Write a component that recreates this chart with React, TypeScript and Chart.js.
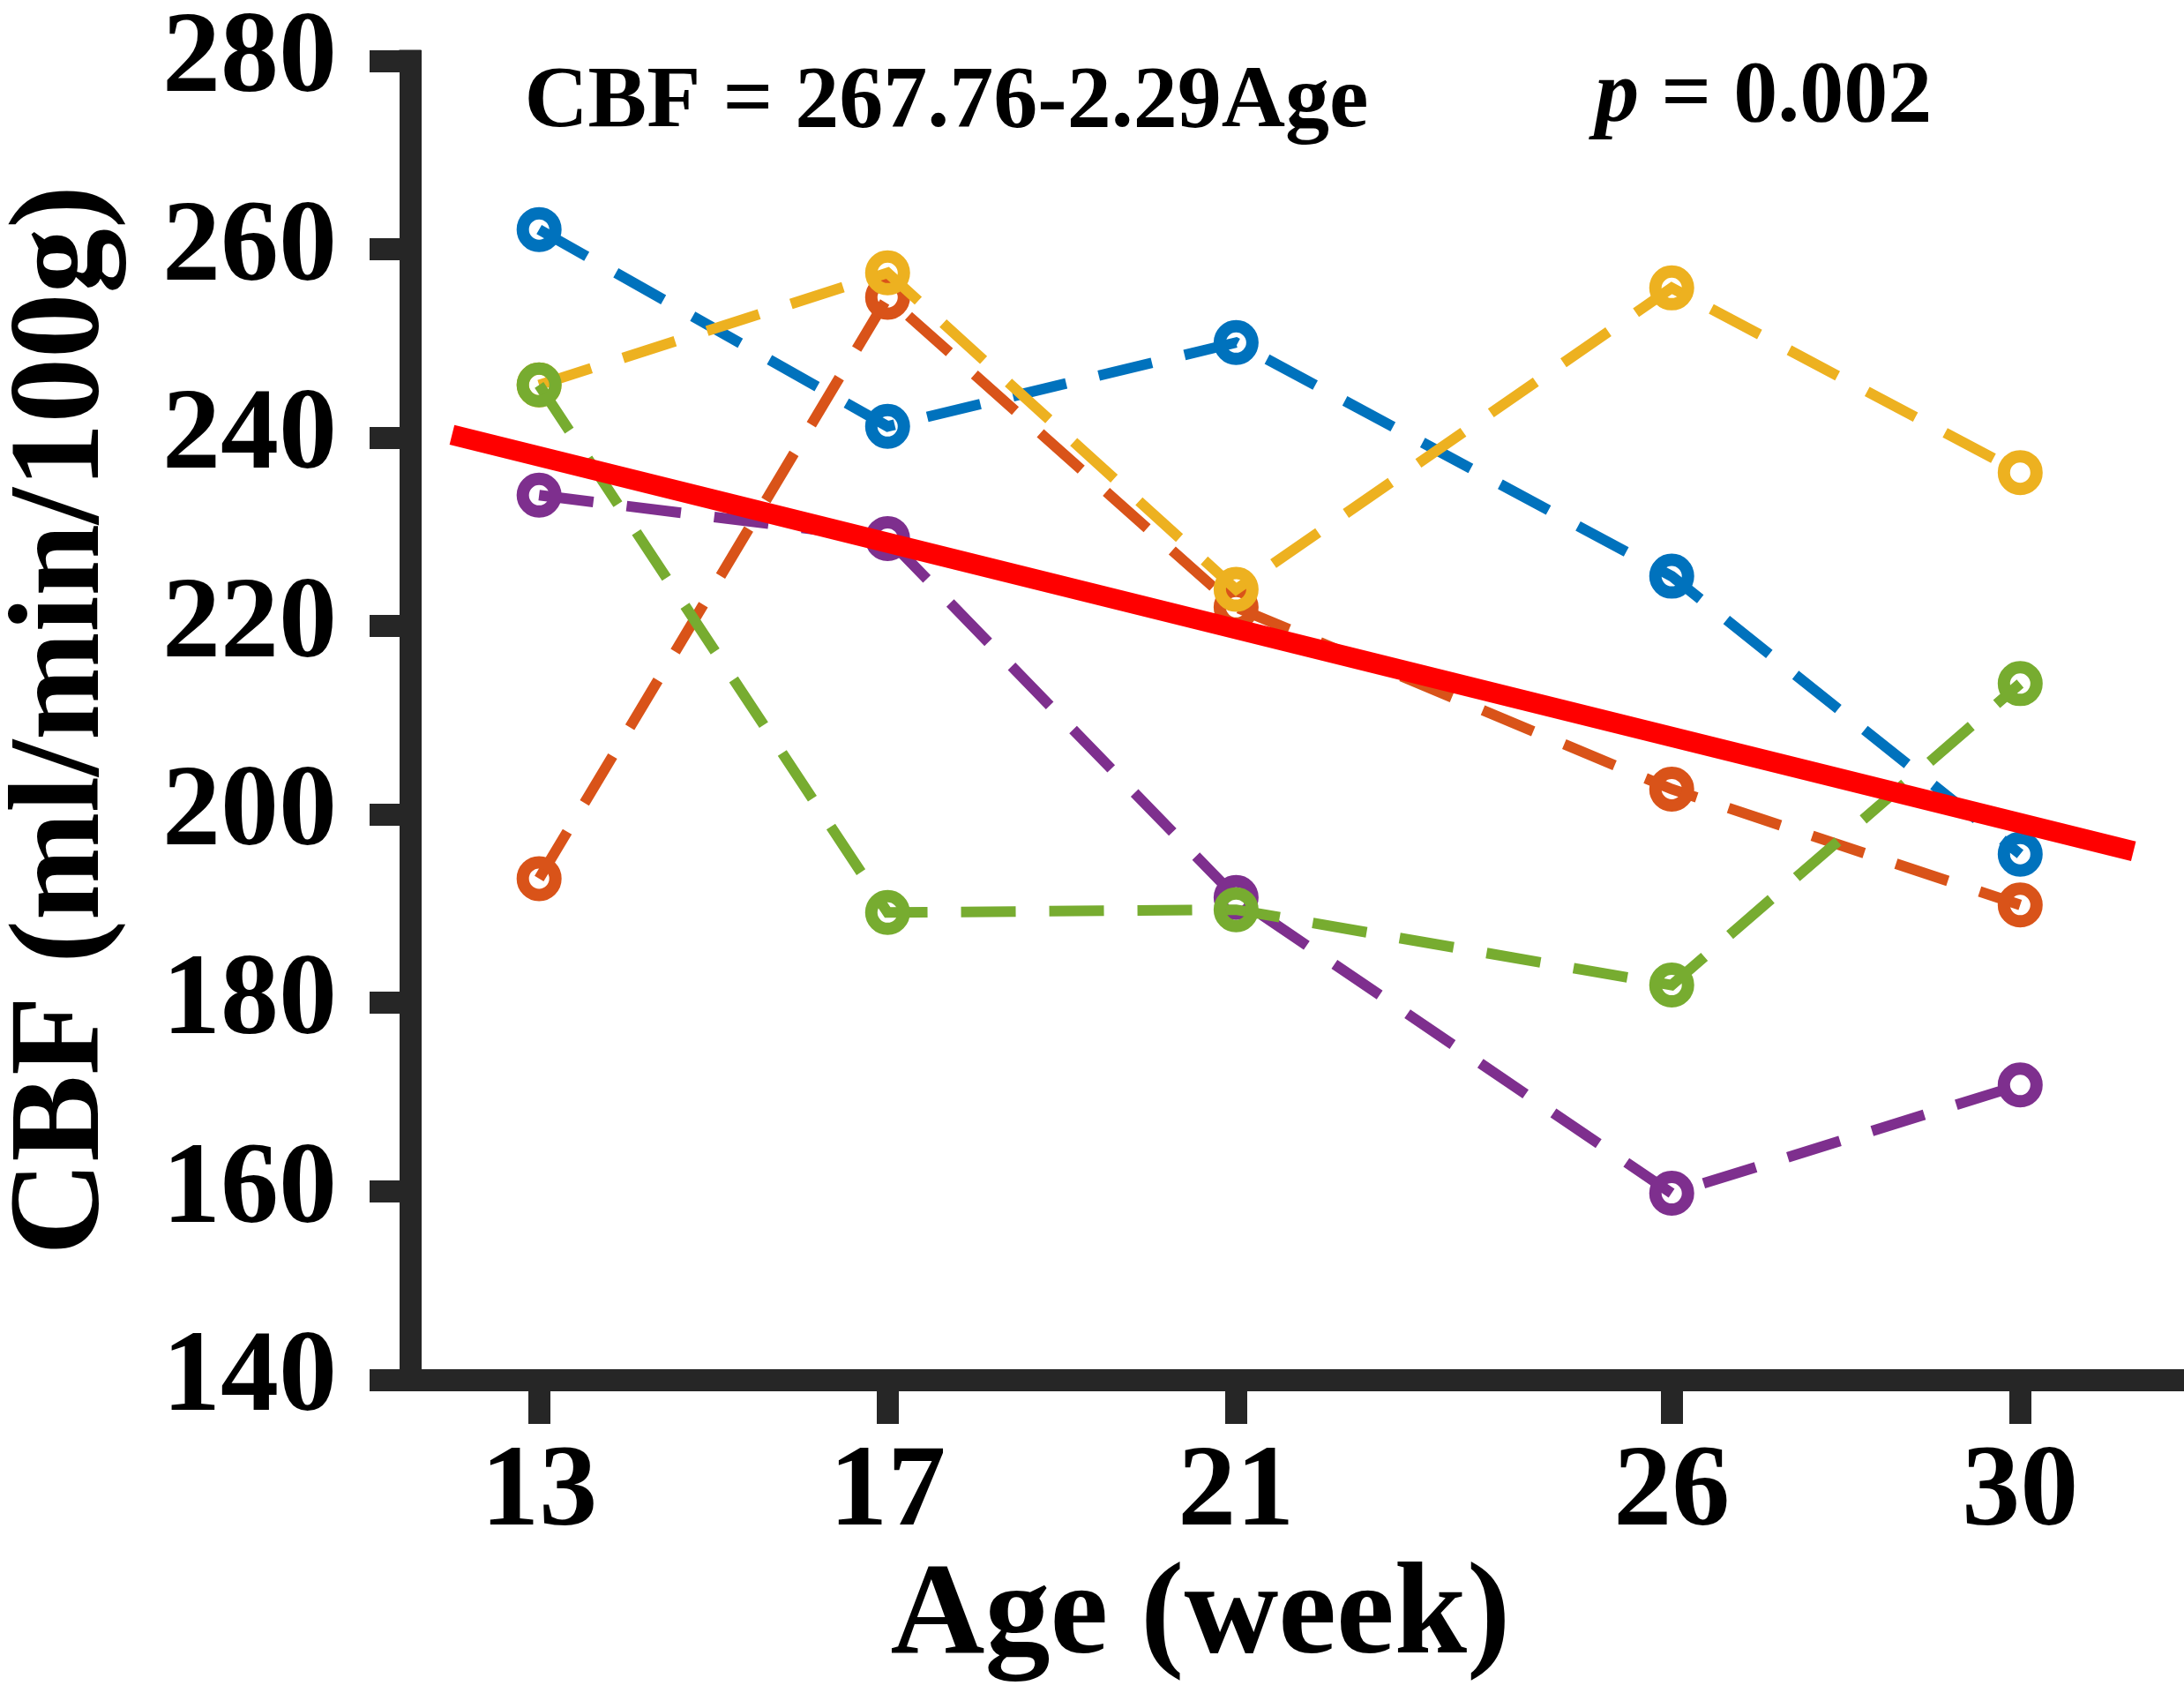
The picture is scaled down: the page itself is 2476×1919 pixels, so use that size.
import React, { useEffect, useRef } from 'react';
import { Chart, registerables } from 'chart.js';

Chart.register(...registerables);

// ---- data ----
const ages = [13, 17, 21, 26, 30];
const cbfBlue = [262.1, 241.2, 250.1, 225.3, 195.8];
const cbfOrange = [193.2, 254.9, 222.0, 202.7, 190.4];
const cbfYellow = [245.6, 257.5, 223.9, 255.9, 236.3];
const cbfPurple = [233.9, 229.3, 191.2, 159.8, 171.3];
const cbfGreen = [245.6, 189.6, 189.9, 181.9, 213.9];
const fitAges = [12, 31.3];
const fitCBF = [240.3, 196.1];
const yMin = 140;
const yMax = 280;
const yStep = 20;
const equationText = 'CBF = 267.76-2.29Age';
const pLabel = 'p';
const pValueText = ' = 0.002';
const xTitle = 'Age (week)';
const yTitle = 'CBF (ml/min/100g)';

const FONT = '"Liberation Serif", "Times New Roman", serif';
const AXIS = '#262626';

const toPts = (xs: number[], ys: number[]) => xs.map((a, i) => ({ x: a, y: ys[i] }));

const subjectStyle = (color: string) => ({
  borderColor: color,
  backgroundColor: 'transparent',
  borderWidth: 12,
  borderDash: [62, 38],
  pointRadius: 18.5,
  pointHoverRadius: 18.5,
  pointBorderWidth: 14,
  pointBorderColor: color,
  pointBackgroundColor: 'transparent',
  showLine: true,
  tension: 0,
});

const textPlugin = {
  id: 'textPlugin',
  afterDraw(chart: any) {
    const { ctx, chartArea } = chart;
    const xs = chart.scales.x;
    const ys = chart.scales.y;
    ctx.save();
    // close the top corner of the y axis line
    ctx.fillStyle = AXIS;
    ctx.fillRect(chartArea.left - 12.5, chartArea.top - 12.5, 25, 13);

    ctx.fillStyle = '#000000';
    ctx.textBaseline = 'alphabetic';
    ctx.textAlign = 'left';
    ctx.font = `bold 100px ${FONT}`;
    ctx.fillText(equationText, xs.getPixelForValue(12.83), ys.getPixelForValue(273.1));

    const px = xs.getPixelForValue(25.12);
    const py = ys.getPixelForValue(273.6);
    ctx.font = `italic bold 100px ${FONT}`;
    ctx.fillText(pLabel, px, py);
    const w = ctx.measureText(pLabel).width;
    ctx.font = `bold 100px ${FONT}`;
    ctx.fillText(pValueText, px + w, py);

    ctx.textAlign = 'center';
    ctx.font = `bold 148px ${FONT}`;
    ctx.fillText(
      xTitle,
      chartArea.left + 0.4455 * (chartArea.right - chartArea.left),
      chartArea.bottom + 309
    );
    ctx.restore();
  },
};

export default function App() {
  const ref = useRef<HTMLCanvasElement | null>(null);

  useEffect(() => {
    document.body.style.margin = '0';
    const canvas = ref.current;
    if (!canvas) return;
    const chart = new Chart(canvas, {
      type: 'scatter',
      data: {
        datasets: [
          {
            label: 'fit',
            data: toPts(fitAges, fitCBF),
            borderColor: '#FF0000',
            backgroundColor: '#FF0000',
            borderWidth: 23,
            pointRadius: 0,
            showLine: true,
            tension: 0,
          },
          { label: 'green', data: toPts(ages, cbfGreen), ...subjectStyle('#77AC30') },
          { label: 'purple', data: toPts(ages, cbfPurple), ...subjectStyle('#7E2F8E') },
          { label: 'yellow', data: toPts(ages, cbfYellow), ...subjectStyle('#EDB120') },
          { label: 'orange', data: toPts(ages, cbfOrange), ...subjectStyle('#D95319') },
          { label: 'blue', data: toPts(ages, cbfBlue), ...subjectStyle('#0072BD') },
        ] as any,
      },
      options: {
        animation: false,
        responsive: false,
        devicePixelRatio: 1,
        layout: { autoPadding: false, padding: { top: 69, left: 0, right: 0, bottom: 0 } },
        plugins: {
          legend: { display: false },
          tooltip: { enabled: false },
          title: { display: false },
        },
        scales: {
          x: {
            type: 'linear',
            min: 11.52,
            max: 31.88,
            afterBuildTicks: (scale: any) => {
              scale.ticks = ages.map((v) => ({ value: v }));
            },
            afterFit: (scale: any) => {
              scale.height = 355;
              scale.paddingLeft = 0;
              scale.paddingRight = 0;
            },
            ticks: {
              autoSkip: false,
              maxRotation: 0,
              padding: 14,
              color: '#000000',
              font: { family: FONT, weight: 'bold', size: 132, lineHeight: 1 },
            },
            grid: {
              drawOnChartArea: false,
              drawTicks: true,
              tickLength: 50,
              tickWidth: 25,
              tickColor: AXIS,
            },
            border: { display: true, width: 25, color: AXIS },
          },
          y: {
            type: 'linear',
            min: yMin,
            max: yMax,
            afterFit: (scale: any) => {
              scale.width = 465;
              scale.paddingTop = 0;
              scale.paddingBottom = 0;
            },
            ticks: {
              stepSize: yStep,
              padding: 37,
              color: '#000000',
              font: { family: FONT, weight: 'bold', size: 132, lineHeight: 1 },
            },
            grid: {
              drawOnChartArea: false,
              drawTicks: true,
              tickLength: 46,
              tickWidth: 25,
              tickColor: AXIS,
            },
            border: { display: true, width: 25, color: AXIS },
            title: {
              display: true,
              text: yTitle,
              color: '#000000',
              padding: 0,
              font: { family: FONT, weight: 'bold', size: 147, lineHeight: 1 },
            },
          },
        },
      } as any,
      plugins: [textPlugin],
    });
    return () => chart.destroy();
  }, []);

  return (
    <div style={{ position: 'absolute', left: 0, top: 0, width: 2476, height: 1919, background: '#ffffff' }}>
      <canvas ref={ref} width={2476} height={1919} style={{ width: 2476, height: 1919, display: 'block' }} />
    </div>
  );
}
